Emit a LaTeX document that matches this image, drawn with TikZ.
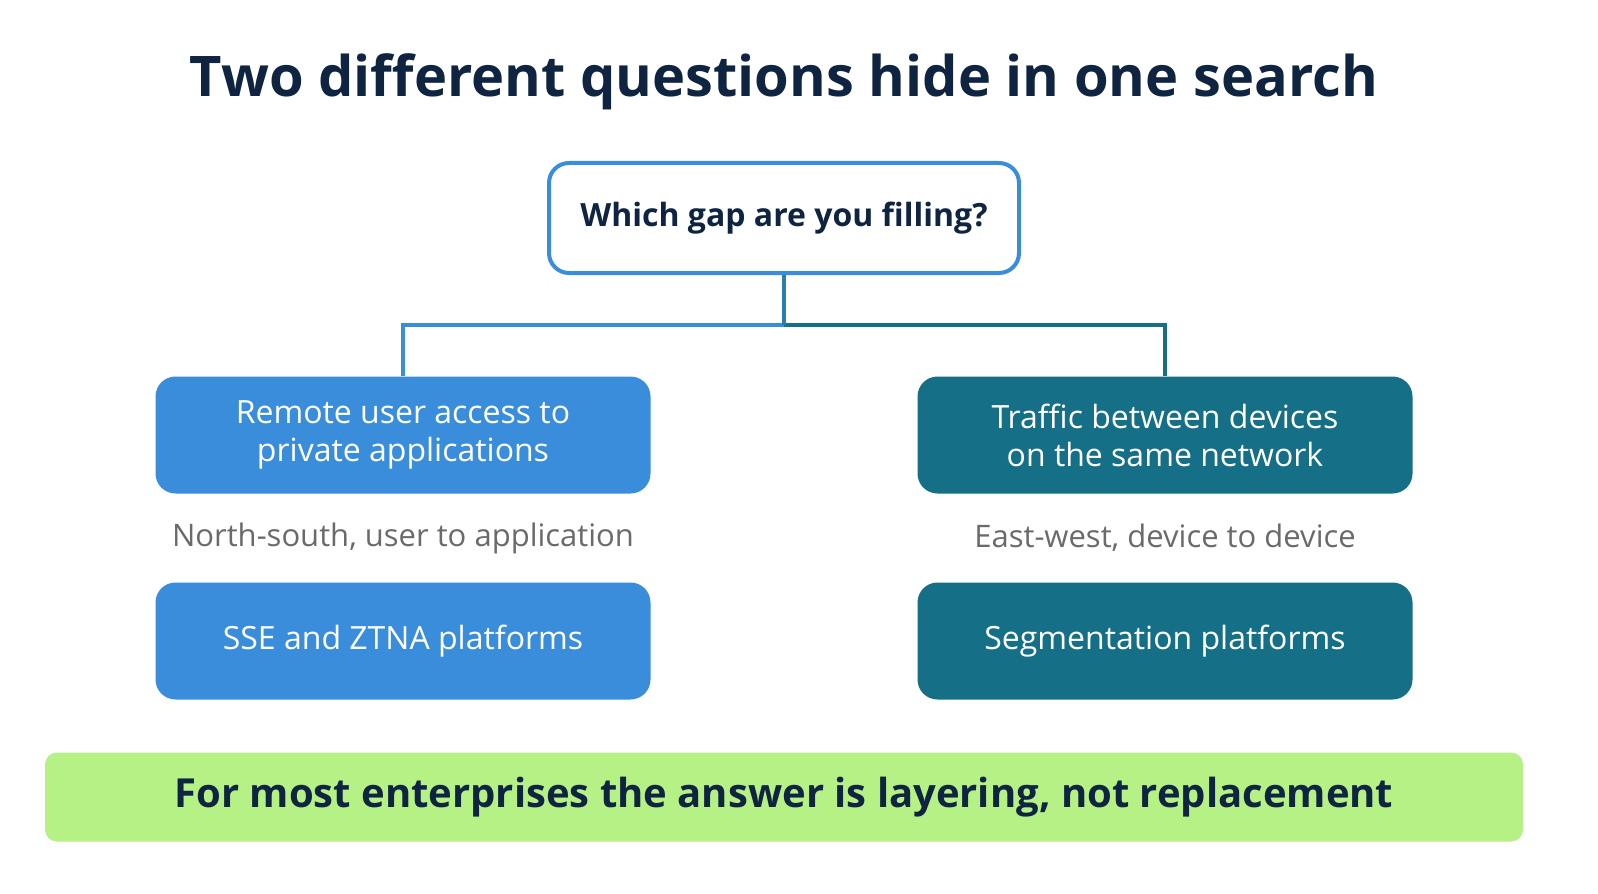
\documentclass[tikz,border=0pt]{standalone}
\usepackage{fontspec}
\setmainfont{Open Sans}
\usetikzlibrary{positioning}
\definecolor{navy}{HTML}{0F2440}
\definecolor{skyblue}{HTML}{3A8DDB}
\definecolor{tealbox}{HTML}{156F86}
\definecolor{linegreen}{HTML}{B5F185}
\definecolor{subgray}{HTML}{6A6A6A}
\tikzset{
  box/.style={rounded corners=10pt, minimum width=247.5pt, minimum height=58.5pt,
    text=white, font=\fontsize{16}{19}\selectfont, align=center, inner sep=0pt},
  leftbox/.style={box, fill=skyblue},
  rightbox/.style={box, fill=tealbox},
  sub/.style={text=subgray, font=\fontsize{15.5}{18}\selectfont},
  link/.style={line width=1.6pt},
}
\begin{document}
\begin{tikzpicture}[x=0.5pt,y=-0.5pt]
  \useasboundingbox[fill=white] (0,0) rectangle (1598,893);
  \node[text=navy, font=\fontsize{28}{32}\selectfont\bfseries] (title) at (784,82) {Two different questions hide in one search};
  \node[draw=skyblue, line width=2pt, fill=white, rounded corners=10pt, minimum width=235pt, minimum height=55pt,
    text=navy, font=\fontsize{16}{19}\selectfont\bfseries] (gap) at (784,218) {Which gap are you filling?};
  % left column
  \node[leftbox] (remote) at (403,435) {Remote user access to\\private applications};
  \node[sub] (ns) at (403,538) {North-south, user to application};
  \node[leftbox] (sse) at (403,641) {SSE and ZTNA platforms};
  % right column
  \node[rightbox] (traffic) at (1165,435) {Traffic between devices\\on the same network};
  \node[sub] (ew) at (1165,538) {East-west, device to device};
  \node[rightbox] (seg) at (1165,641) {Segmentation platforms};
  % connectors
  \coordinate (fork) at (784,325);
  \draw[link, skyblue] (gap.south) -- (fork) -| (remote.north);
  \draw[link, tealbox] (fork) -| (traffic.north);
  \draw[link, skyblue!50!tealbox] (gap.south) -- (fork);
  % bottom line
  \node[fill=linegreen, rounded corners=6pt, minimum width=739pt, minimum height=44.5pt,
    text=navy, font=\fontsize{20}{24}\selectfont\bfseries] (answer) at (784,797) {For most enterprises the answer is layering, not replacement};
\end{tikzpicture}
\end{document}
